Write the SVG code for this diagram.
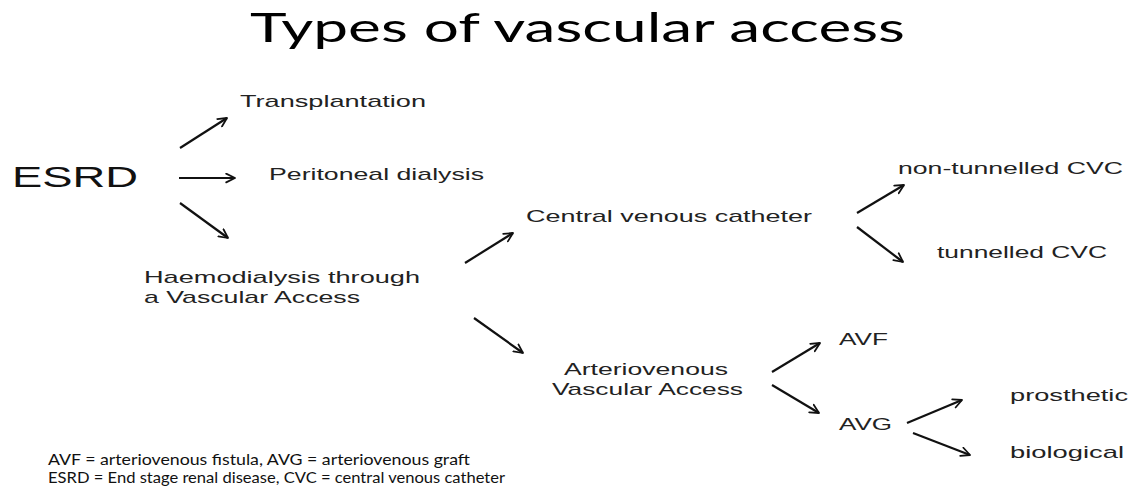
<svg xmlns="http://www.w3.org/2000/svg" width="1131" height="488" viewBox="0 0 1131 488">
  <style>
    .t { font-family: "Liberation Sans", Arial, sans-serif; font-size: 17px; fill: #222; }
    .big { font-family: "Liberation Sans", Arial, sans-serif; font-size: 29px; fill: #111; }
    .title { font-family: Lato, "Open Sans", sans-serif; font-size: 41px; fill: #000; }
    .note { font-family: Lato, "Open Sans", sans-serif; font-size: 15px; fill: #111; }
    .arr { stroke: #111; stroke-width: 2.2; fill: none; marker-end: url(#ah); }
  </style>
  <defs>
    <marker id="ah" viewBox="0 0 10 10" refX="9" refY="5" markerWidth="5" markerHeight="5" orient="auto" markerUnits="strokeWidth">
      <path d="M1,1 L9,5 L1,9" fill="none" stroke="#111" stroke-width="1.6" stroke-linecap="round" stroke-linejoin="round"/>
    </marker>
  </defs>
  <rect width="1131" height="488" fill="#fff"/>

  <g id="title"><text class="title" x="250" y="42" textLength="655" lengthAdjust="spacingAndGlyphs">Types of vascular access</text></g>

  <g id="esrd"><text class="big" x="12" y="187" textLength="126" lengthAdjust="spacingAndGlyphs">ESRD</text></g>
  <g id="transplantation"><text class="t" x="240" y="107" textLength="186" lengthAdjust="spacingAndGlyphs">Transplantation</text></g>
  <g id="peritoneal"><text class="t" x="269" y="180" textLength="215" lengthAdjust="spacingAndGlyphs">Peritoneal dialysis</text></g>
  <g id="haemodialysis">
    <text class="t" x="144" y="283" textLength="276" lengthAdjust="spacingAndGlyphs">Haemodialysis through</text>
    <text class="t" x="144" y="303" textLength="216" lengthAdjust="spacingAndGlyphs">a Vascular Access</text>
  </g>
  <g id="cvc"><text class="t" x="526" y="222" textLength="286" lengthAdjust="spacingAndGlyphs">Central venous catheter</text></g>
  <g id="nontunnelled"><text class="t" x="898" y="174" textLength="225" lengthAdjust="spacingAndGlyphs">non-tunnelled CVC</text></g>
  <g id="tunnelled"><text class="t" x="937" y="258" textLength="170" lengthAdjust="spacingAndGlyphs">tunnelled CVC</text></g>
  <g id="av">
    <text class="t" x="564" y="375" textLength="164" lengthAdjust="spacingAndGlyphs">Arteriovenous</text>
    <text class="t" x="552" y="395" textLength="191" lengthAdjust="spacingAndGlyphs">Vascular Access</text>
  </g>
  <g id="avf"><text class="t" x="839" y="345" textLength="49" lengthAdjust="spacingAndGlyphs">AVF</text></g>
  <g id="avg"><text class="t" x="839" y="430" textLength="53" lengthAdjust="spacingAndGlyphs">AVG</text></g>
  <g id="prosthetic"><text class="t" x="1010" y="401" textLength="118" lengthAdjust="spacingAndGlyphs">prosthetic</text></g>
  <g id="biological"><text class="t" x="1010" y="458" textLength="114" lengthAdjust="spacingAndGlyphs">biological</text></g>

  <g id="connectors">
    <line class="arr" x1="180" y1="148" x2="227" y2="118"/>
    <line class="arr" x1="179" y1="178" x2="235" y2="178"/>
    <line class="arr" x1="180" y1="203" x2="228" y2="238"/>
    <line class="arr" x1="465" y1="263" x2="513" y2="233"/>
    <line class="arr" x1="474" y1="318" x2="523" y2="353"/>
    <line class="arr" x1="857" y1="213" x2="904" y2="185"/>
    <line class="arr" x1="857" y1="227" x2="903" y2="262"/>
    <line class="arr" x1="772" y1="372" x2="820" y2="343"/>
    <line class="arr" x1="772" y1="385" x2="819" y2="413"/>
    <line class="arr" x1="907" y1="423" x2="962" y2="400"/>
    <line class="arr" x1="913" y1="433" x2="970" y2="455"/>
  </g>

  <g id="footnote">
    <text class="note" x="48" y="465" textLength="422" lengthAdjust="spacingAndGlyphs">AVF = arteriovenous fistula, AVG = arteriovenous graft</text>
    <text class="note" x="48" y="483" textLength="457" lengthAdjust="spacingAndGlyphs">ESRD = End stage renal disease, CVC = central venous catheter</text>
  </g>
</svg>
